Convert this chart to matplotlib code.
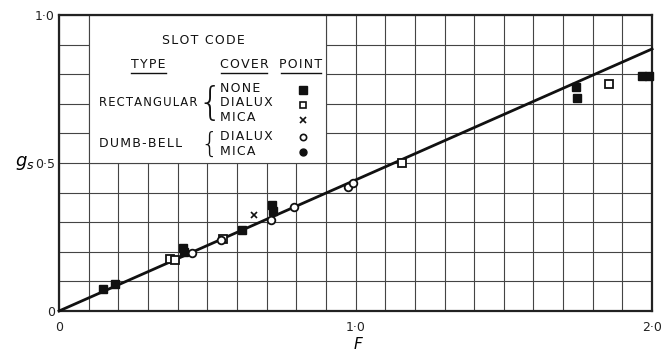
import numpy as np
import matplotlib.pyplot as plt
from matplotlib.patches import Rectangle
from matplotlib.ticker import MultipleLocator

# data (F, g_s)
rect_none_F = [0.148, 0.189, 0.418, 0.421, 0.617, 0.718, 0.722, 1.744, 1.747, 1.966, 1.990]
rect_none_g = [0.074, 0.091, 0.213, 0.200, 0.274, 0.358, 0.338, 0.757, 0.720, 0.794, 0.794]
rect_dialux_F = [0.374, 0.391, 0.553, 1.157, 1.855]
rect_dialux_g = [0.176, 0.172, 0.243, 0.500, 0.767]
rect_mica_F = [0.658]
rect_mica_g = [0.324]
db_dialux_F = [0.448, 0.546, 0.715, 0.793, 0.975, 0.991]
db_dialux_g = [0.196, 0.240, 0.307, 0.351, 0.419, 0.432]
fit_F = [0.0, 2.0]
fit_g = [0.0, 0.885]


def spaced(s):
    # the lettering on the original is widely spaced
    return '\u200a'.join(s)


fig = plt.figure(figsize=(6.64, 3.55), dpi=100)
ax = fig.add_axes([0.089, 0.124, 0.893, 0.834])
ax.set_xlim(0, 2.0)
ax.set_ylim(0, 1.0)

ax.xaxis.set_minor_locator(MultipleLocator(0.1))
ax.yaxis.set_minor_locator(MultipleLocator(0.1))
ax.set_xticks([0, 1.0, 2.0])
ax.set_xticklabels(['0', '1·0', '2·0'])
ax.set_yticks([0, 0.5, 1.0])
ax.set_yticklabels(['0', '0·5', '1·0'])
ax.tick_params(which='both', length=0, labelsize=9, colors='#222222')
ax.tick_params(axis='y', pad=3)
ax.tick_params(axis='x', pad=7)
ax.grid(which='both', color='#444444', lw=0.8)
ax.set_axisbelow(True)
for s in ax.spines.values():
    s.set_linewidth(1.6)
    s.set_color('#222222')

# white legend panel covering the grid
ax.add_patch(Rectangle((0.1, 0.5), 0.8, 0.5, facecolor='white', edgecolor='#444444', lw=0.8, zorder=1.5))

ax.plot(fit_F, fit_g, color='#111111', lw=2.0, zorder=3, clip_on=False)
ax.plot(rect_none_F, rect_none_g, 's', color='#111111', ms=6, zorder=4, clip_on=False)
ax.plot(rect_dialux_F, rect_dialux_g, 's', mfc='white', mec='#111111', mew=1.3, ms=5.5, zorder=4)
ax.plot(rect_mica_F, rect_mica_g, 'x', color='#111111', mew=1.2, ms=5, zorder=4)
ax.plot(db_dialux_F, db_dialux_g, 'o', mfc='white', mec='#111111', mew=1.3, ms=5.5, zorder=4)

# legend text
tk = dict(fontsize=9, color='#111111', zorder=5, family='DejaVu Sans')
ax.text(0.486, 0.912, spaced('SLOT CODE'), ha='center', va='center', **tk)
ax.text(0.300, 0.831, spaced('TYPE'), ha='center', va='center', **tk)
ax.text(0.624, 0.831, spaced('COVER'), ha='center', va='center', **tk)
ax.text(0.816, 0.831, spaced('POINT'), ha='center', va='center', **tk)
for x0, x1 in [(0.243, 0.361), (0.546, 0.702), (0.749, 0.884)]:
    ax.plot([x0, x1], [0.804, 0.804], color='#111111', lw=1.0, zorder=5)
tk_small = dict(tk, fontsize=8.4)
ax.text(0.135, 0.703, spaced('RECTANGULAR'), ha='left', va='center', **tk_small)
ax.text(0.135, 0.564, spaced('DUMB-BELL'), ha='left', va='center', **tk)
ax.text(0.507, 0.700, '{', ha='center', va='center', fontsize=28, fontweight='light', color='#111111', zorder=5)
ax.text(0.507, 0.560, '{', ha='center', va='center', fontsize=20, fontweight='light', color='#111111', zorder=5)
covers = ['NONE', 'DIALUX', 'MICA', 'DIALUX', 'MICA']
cover_g = [0.753, 0.703, 0.652, 0.588, 0.537]
for c, g in zip(covers, cover_g):
    ax.text(0.543, g, spaced(c), ha='left', va='center', **tk)
ax.plot([0.823], [0.747], 's', color='#111111', ms=5.5, zorder=5)
ax.plot([0.823], [0.696], 's', mfc='white', mec='#111111', mew=1.2, ms=4.5, zorder=5)
ax.plot([0.823], [0.645], 'x', color='#111111', mew=1.2, ms=4.5, zorder=5)
ax.plot([0.823], [0.588], 'o', mfc='white', mec='#111111', mew=1.2, ms=4.5, zorder=5)
ax.plot([0.823], [0.537], 'o', color='#111111', ms=5, zorder=5)

ax.set_ylabel('$g_s$', rotation=0, fontsize=13, va='center')
ax.yaxis.set_label_coords(-0.058, 0.5)
ax.set_xlabel('$F$', fontsize=11)
ax.xaxis.set_label_coords(0.505, -0.085)

plt.savefig('out.png', dpi=100)
